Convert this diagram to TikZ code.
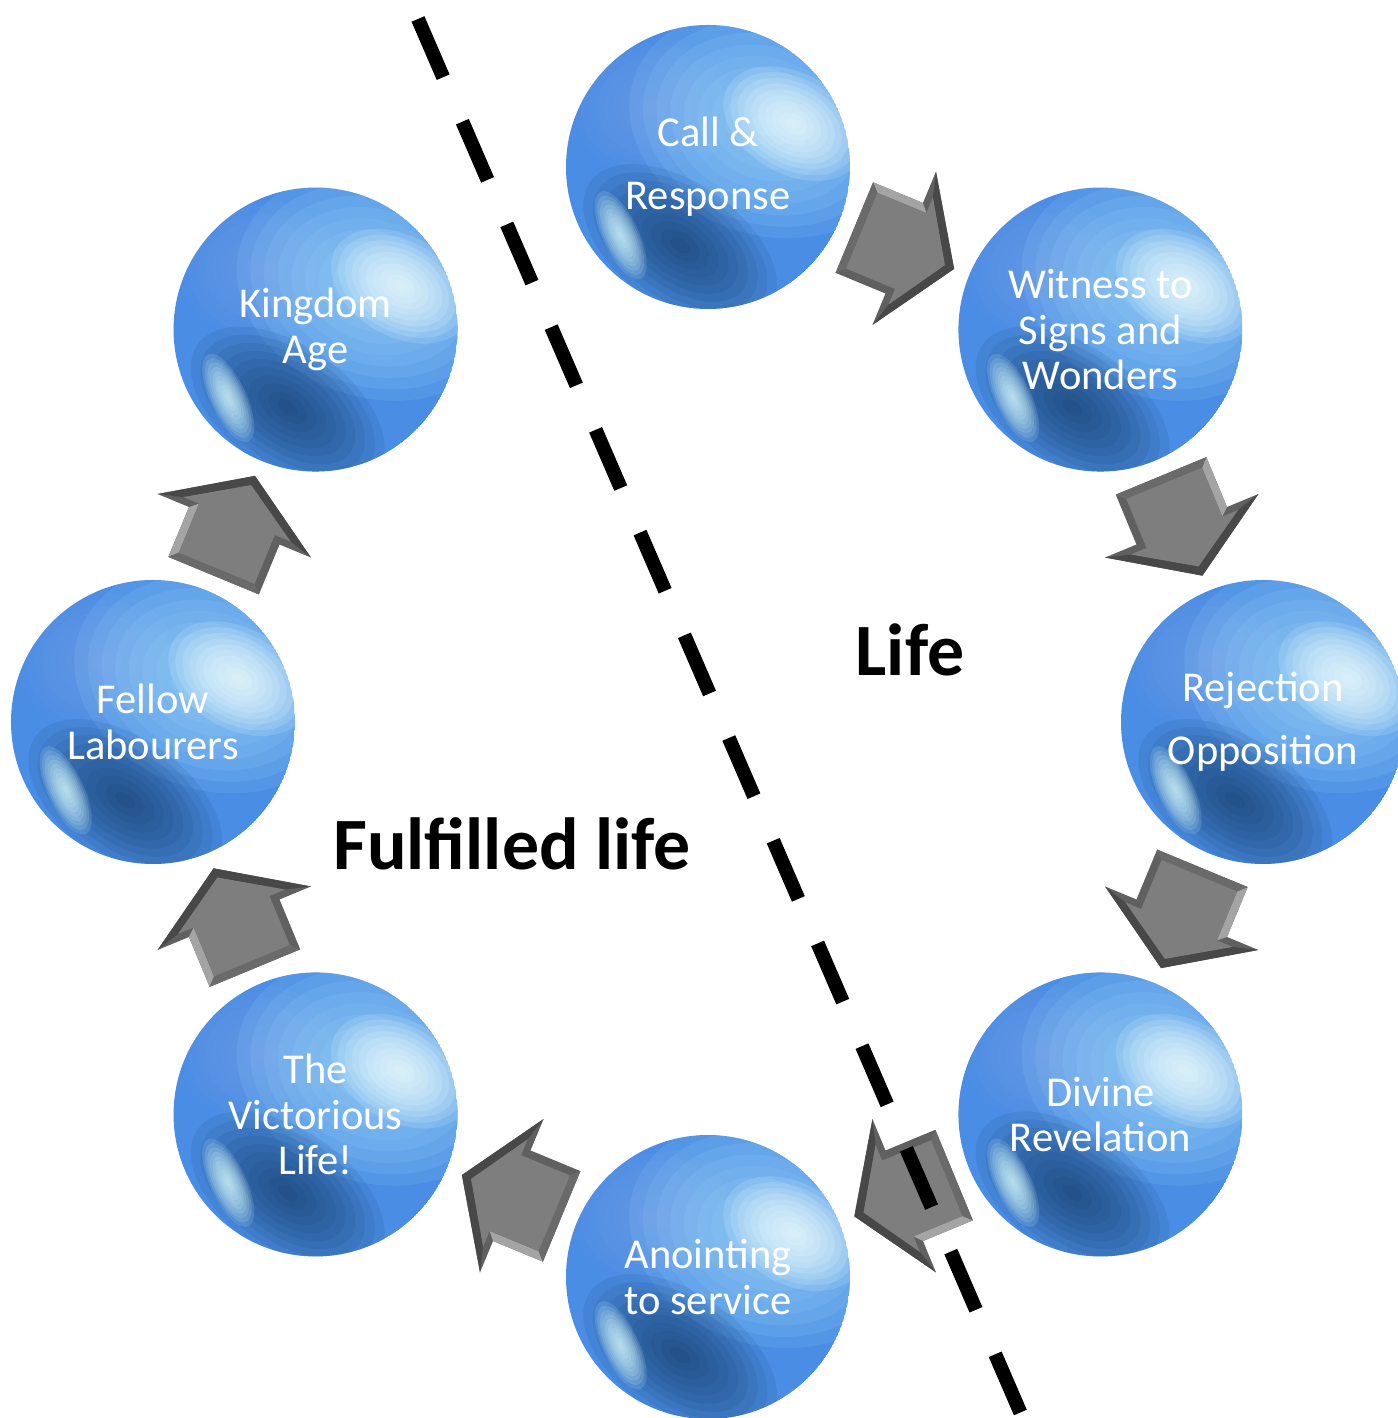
\documentclass[tikz,border=0pt]{standalone}
\usepackage{fontspec}
\setmainfont{Carlito}
\usepackage{xcolor}
\usetikzlibrary{calc,backgrounds}

\definecolor{orbbase}{HTML}{4A8DE4}
\definecolor{orblight}{HTML}{A4DCFB}
\definecolor{orbhi}{HTML}{F2FFFF}
\definecolor{orblilac}{HTML}{86A4F2}
\definecolor{orbdark}{HTML}{143860}
\definecolor{orbglow}{HTML}{DAFCFF}
\definecolor{arrowrim}{HTML}{606060}
\definecolor{arrowhead}{HTML}{484848}
\definecolor{arrowlit}{HTML}{A4A4A4}
\definecolor{arrowback}{HTML}{6A6A6A}
\definecolor{arrowface}{HTML}{7E7E7E}

% soft blob: {style}{node}{dx}{dy}{x radius}{y radius}{angle}
\newcommand{\softblob}[7]{%
  \foreach \k in {1,...,10}{%
    \fill[#1, rotate around={#7:($(#2)+(#3,#4)$)}]
      ($(#2)+(#3,#4)$) ellipse ({#5*\k/10} and {#6*\k/10});
  }}
% shaded ball behind a stage node
\newcommand{\orbbody}[1]{%
  \begin{scope}
    \clip (#1.center) circle (1.42);
    \fill[orbbase] (#1.center) circle (1.42);
    \softblob{orblilac, fill opacity=0.06}{#1}{-0.55}{0.6}{0.8}{0.7}{0}
    \softblob{orblight, fill opacity=0.12}{#1}{0.4}{0.6}{1.4}{1.1}{-20}
    \softblob{orbhi, fill opacity=0.14}{#1}{0.52}{0.8}{0.75}{0.5}{-30}
    \softblob{orbdark, fill opacity=0.1}{#1}{0.22}{-0.8}{1.1}{0.62}{-35}
    \softblob{orbglow, fill opacity=0.14}{#1}{-1.08}{-0.25}{0.18}{0.48}{25}
  \end{scope}}

\tikzset{
  orb/.style={circle, minimum size=2.84cm, inner sep=0pt,
    text=white, align=center, font=\fontsize{12.1}{13}\selectfont},
  bigword/.style={font=\fontsize{21}{25}\bfseries\selectfont},
  cutline/.style={line width=0.14cm, dash pattern=on 0.634cm off 0.485cm},
  blockarrow/.pic={
    \fill[arrowrim] (-0.54,0.49) -- (0,0.49) -- (0,0.83) -- (0.54,0)
      -- (0,-0.83) -- (0,-0.49) -- (-0.54,-0.49) -- cycle;
    \fill[arrowhead] (0,0.83) -- (0.54,0) -- (0,-0.83) -- (0.07,-0.58)
      -- (0.44,0) -- (0.07,0.58) -- cycle;
    \fill[arrowlit] (-0.54,0.49) -- (0,0.49) -- (0.07,0.41) -- (-0.46,0.41) -- cycle;
    \fill[arrowback] (-0.54,0.49) -- (-0.46,0.41) -- (-0.46,-0.41) -- (-0.54,-0.49) -- cycle;
    \fill[arrowface] (-0.46,0.41) -- (0.07,0.41) -- (0.07,0.58) -- (0.44,0)
      -- (0.07,-0.58) -- (0.07,-0.41) -- (-0.46,-0.41) -- cycle;
  }
}

\begin{document}
\begin{tikzpicture}
  \useasboundingbox (-7.08,-6.96) rectangle (6.90,7.22);
  % stages round the circle
  \node[orb] (call) at (90:5.55) {Call \&\\[5pt]Response};
  \node[orb] (witness) at (45:5.55) {Witness to\\Signs and\\Wonders};
  \node[orb] (reject) at (0:5.55) {Rejection\\[5pt]Opposition};
  \node[orb] (divine) at (-45:5.55) {Divine\\Revelation};
  \node[orb] (anoint) at (-90:5.55) {Anointing\\to service};
  \node[orb] (victory) at (-135:5.55) {The\\Victorious\\Life!};
  \node[orb] (fellow) at (180:5.55) {Fellow\\Labourers};
  \node[orb] (kingdom) at (135:5.55) {Kingdom\\Age};
  \begin{pgfonlayer}{background}
    \orbbody{call}
    \orbbody{witness}
    \orbbody{reject}
    \orbbody{divine}
    \orbbody{anoint}
    \orbbody{victory}
    \orbbody{fellow}
    \orbbody{kingdom}
  \end{pgfonlayer}
  % arrows between stages
  \path (call) -- (witness) pic[pos=.5, sloped, allow upside down] {blockarrow};
  \path (witness) -- (reject) pic[pos=.5, sloped, allow upside down] {blockarrow};
  \path (reject) -- (divine) pic[pos=.5, sloped, allow upside down] {blockarrow};
  \path (divine) -- (anoint) pic[pos=.5, sloped, allow upside down] {blockarrow};
  \path (anoint) -- (victory) pic[pos=.5, sloped, allow upside down] {blockarrow};
  \path (victory) -- (fellow) pic[pos=.5, sloped, allow upside down] {blockarrow};
  \path (fellow) -- (kingdom) pic[pos=.5, sloped, allow upside down] {blockarrow};
  % dividing line
  \coordinate (cuttop) at (-2.90,7.03);
  \coordinate (cutbot) at (3.13,-6.92);
  \draw[cutline] (cuttop) -- (cutbot);
  \node[bigword] (life) at (2.02,0.72) {Life};
  \node[bigword] (fulfilled) at (-1.96,-1.22) {Fulfilled life};
\end{tikzpicture}
\end{document}
